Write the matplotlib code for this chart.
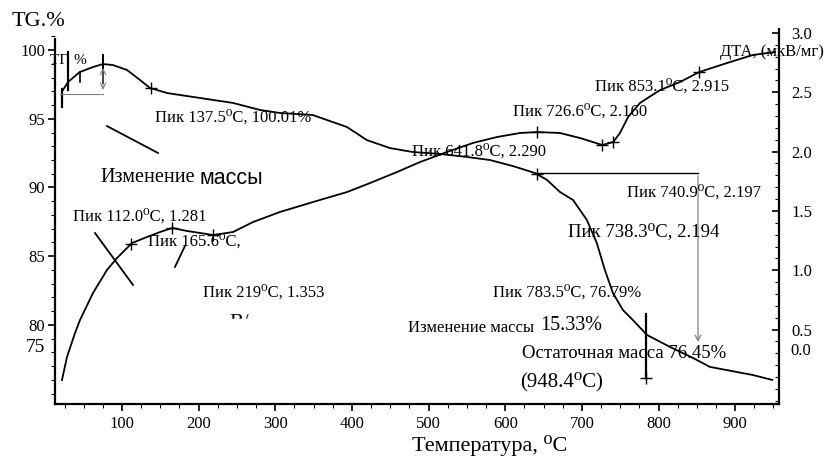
import numpy as np
import matplotlib.pyplot as plt
from matplotlib.patches import Rectangle
from matplotlib.ticker import MultipleLocator, FormatStrFormatter

# Термограмма: кривая ТГ (%) и кривая ДТА (мкВ/мг)
tg_temp = [23, 29.5, 45, 62, 75, 88, 106.5, 123.5, 136.5, 159, 202, 245, 280, 306,
           349, 393.5, 419.5, 449.5, 479.5, 515, 550, 580, 610, 639, 654.5, 671.5,
           688.5, 706.5, 719.5, 730, 740.5, 753.5, 766.5, 785, 815, 845, 867, 902,
           923, 948.4]
tg_mass = [97.09, 97.67, 98.40, 98.76, 98.98, 98.91, 98.55, 97.82, 97.24, 96.87,
           96.51, 96.15, 95.64, 95.42, 95.27, 94.40, 93.45, 92.87, 92.58, 92.44,
           92.22, 92.00, 91.56, 91.05, 90.55, 89.67, 89.09, 87.64, 85.96, 84.00,
           82.33, 81.09, 80.36, 79.27, 78.40, 77.60, 76.95, 76.58, 76.36, 76.00]

dta_temp = [21.7, 28.2, 38.7, 45.2, 62.2, 80.4, 93.5, 113.0, 132.6, 149.6, 165.6,
            184.8, 219.0, 244.8, 270.9, 306.1, 349.2, 393.5, 423.6, 458.8, 488.8,
            524.0, 557.9, 589.2, 619.2, 641.8, 671.4, 697.5, 726.6, 740.9, 749.7,
            760.3, 775.8, 801.9, 828.0, 853.1, 889.3, 923.2, 941.5, 952]
dta_signal = [0.074, 0.268, 0.470, 0.580, 0.808, 1.002, 1.103, 1.229, 1.280, 1.322,
              1.356, 1.331, 1.297, 1.322, 1.406, 1.491, 1.575, 1.659, 1.735, 1.828,
              1.912, 1.997, 2.073, 2.123, 2.157, 2.165, 2.157, 2.115, 2.056, 2.081,
              2.157, 2.292, 2.410, 2.519, 2.587, 2.671, 2.747, 2.815, 2.831, 2.840]

# температуры пиков, отмеченных крестиком
tg_peaks = [137.5, 641.8]
dta_peaks = [112.0, 165.6, 219.0, 641.8, 726.6, 740.9, 853.1]

x_ticks = [100, 200, 300, 400, 500, 600, 700, 800, 900]
tg_ticks = [80, 85, 90, 95, 100]
dta_ticks = [0.5, 1.0, 1.5, 2.0, 2.5, 3.0]

SERIF = ['Liberation Serif', 'DejaVu Serif']
plt.rcParams['font.family'] = SERIF

W, H = 829, 458
fig = plt.figure(figsize=(W / 100, H / 100), dpi=100)
ax = fig.add_axes([55 / W, 1 - 404 / H, (779 - 55) / W, (404 - 29) / H])
ax2 = ax.twinx()

ax.set_xlim(12.6, 957.2)
ax.set_ylim(74.25, 101.53)
ax2.set_ylim(-0.128, 3.034)

ax.plot(tg_temp, tg_mass, color='black', lw=1.3)
ax2.plot(dta_temp, dta_signal, color='black', lw=1.3)
ax.plot(tg_peaks, np.interp(tg_peaks, tg_temp, tg_mass), '+', color='black', ms=8, mew=1)
ax2.plot(dta_peaks, np.interp(dta_peaks, dta_temp, dta_signal), '+', color='black', ms=8, mew=1)

# оси
for a in (ax, ax2):
    a.spines['top'].set_visible(False)
ax.spines['right'].set_visible(False)
ax2.spines['left'].set_visible(False)
ax2.spines['bottom'].set_visible(False)
for s in ('left', 'bottom'):
    ax.spines[s].set_linewidth(1.6)
ax2.spines['right'].set_linewidth(1.6)
ax.spines['left'].set_bounds(74.25, 100.8)

ax.set_xticks(x_ticks)
ax.xaxis.set_minor_locator(MultipleLocator(25))
ax.set_yticks(tg_ticks)
ax.yaxis.set_minor_locator(MultipleLocator(1))
ax2.set_yticks(dta_ticks)
ax2.yaxis.set_minor_locator(MultipleLocator(0.1))
ax2.yaxis.set_major_formatter(FormatStrFormatter('%.1f'))

ax.tick_params(axis='both', which='major', length=5, width=1.2, labelsize=12, pad=4)
ax.tick_params(axis='y', which='major', pad=2)
ax.tick_params(axis='both', which='minor', length=3, width=0.8)
ax2.tick_params(axis='y', which='major', direction='in', length=5, width=1.2,
                labelsize=12, pad=9)
ax2.tick_params(axis='y', which='minor', direction='in', length=3, width=0.8)


def label(x, y, s, size=12, **kw):
    return fig.text(x / W, 1 - y / H, s, fontsize=size, va='center', ha='left', **kw)


# дополнительные подписи шкал
label(12, 21, 'TG.%', size=16)
label(26, 348, '75', size=14)
label(790, 351, '0.0', size=12)

# служебные линии разметки
ax.plot([21.7, 21.7], [97.2, 95.85], color='black', lw=1.6)
ax.plot([19.1, 75.2], [96.8, 96.8], color='gray', lw=0.8)
ax.plot([29.5, 29.5], [99.85, 97.09], color='black', lw=1.6)
ax.plot([75.2, 75.2], [99.64, 97.6], color='black', lw=1.4)
ax.annotate('', xy=(75.2, 96.9), xytext=(75.2, 98.9),
            arrowprops=dict(arrowstyle='<->', color='gray', lw=0.8))
ax.plot([45.2, 45.2], [98.4, 97.67], color='black', lw=1.2)
ax.plot([80.4, 147.0], [94.47, 92.51], color='black', lw=1.3)
ax.plot([64.8, 114.4], [86.69, 82.91], color='black', lw=1.3)
ax.plot([169.1, 182.2], [84.22, 85.75], color='black', lw=1.3)
ax.plot([638.8, 851.5], [91.05, 91.05], color='black', lw=1.0)
ax.annotate('', xy=(851.5, 78.55), xytext=(851.5, 91.05),
            arrowprops=dict(arrowstyle='->', color='gray', lw=0.9))
ax.plot([783.5, 783.5], [80.8, 76.15], color='black', lw=1.6)
ax.plot([783.5], [76.15], '+', color='black', ms=8, mew=1)

# подписи пиков
label(50, 60, 'ТГ, %', size=11)
label(155, 118, 'Пик 137.5⁰C, 100.01%')
label(100, 178, 'Изменение', size=14.5)
label(200, 178, 'массы', size=15.5, family=['Liberation Sans', 'DejaVu Sans'])
label(73, 217, 'Пик 112.0⁰C, 1.281')
label(148, 242, 'Пик 165.6⁰C,')
label(203, 293, 'Пик 219⁰C, 1.353')
label(229, 324, 'В/', size=15)
fig.patches.append(Rectangle((222 / W, 1 - 334 / H), 40 / W, 15 / H,
                             transform=fig.transFigure, color='white', zorder=5))
label(412, 152, 'Пик 641.8⁰C, 2.290')
label(513, 112, 'Пик 726.6⁰C, 2.160')
label(595, 87, 'Пик 853.1⁰C, 2.915')
label(720, 52, 'ДТА, (мкВ/мг)', size=12)
label(627, 193, 'Пик 740.9⁰C, 2.197')
label(568, 232, 'Пик 738.3⁰C, 2.194', size=13.5)
label(493, 293, 'Пик 783.5⁰C, 76.79%')
label(408, 328, 'Изменение массы', size=12)
label(540, 326, '15.33%', size=14.5)
label(522, 353, 'Остаточная масса 76.45%', size=13.5)
label(520, 382, '(948.4⁰C)', size=15)

fig.text(490 / W, 1 - 446 / H, 'Температура, ⁰C', fontsize=16, ha='center', va='center')

fig.savefig('out.png', dpi=100)
